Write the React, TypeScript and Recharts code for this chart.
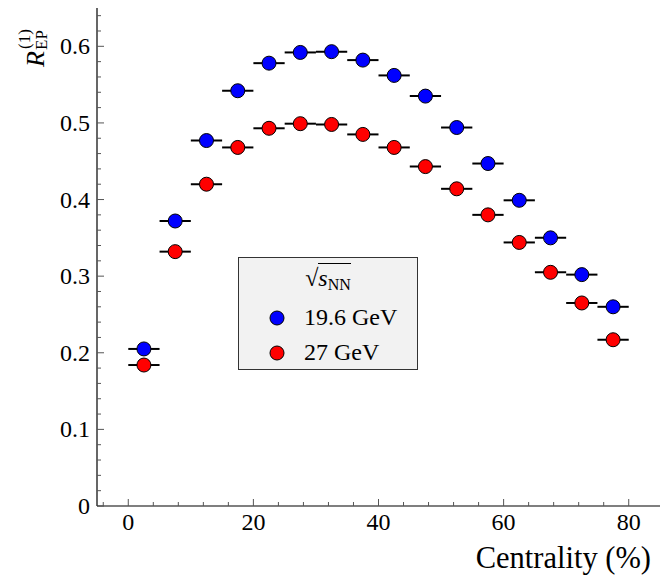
import React from 'react';
import { ScatterChart, Scatter, XAxis, YAxis, ErrorBar } from 'recharts';

const centrality = [2.5, 7.5, 12.5, 17.5, 22.5, 27.5, 32.5, 37.5, 42.5, 47.5, 52.5, 57.5, 62.5, 67.5, 72.5, 77.5];
const binHalfWidth = [2.5, 2.5, 2.5, 2.5, 2.5, 2.5, 2.5, 2.5, 2.5, 2.5, 2.5, 2.5, 2.5, 2.5, 2.5, 2.5];
const rEP_19_6 = [0.205, 0.372, 0.477, 0.542, 0.578, 0.592, 0.593, 0.582, 0.562, 0.535, 0.494, 0.447, 0.399, 0.350, 0.302, 0.260];
const rEP_27 = [0.184, 0.332, 0.420, 0.468, 0.493, 0.499, 0.498, 0.485, 0.468, 0.443, 0.414, 0.380, 0.344, 0.305, 0.265, 0.217];

const xMajorTicks = [0, 20, 40, 60, 80];
const xMinorTicks = [-4, 4, 8, 12, 16, 24, 28, 32, 36, 44, 48, 52, 56, 64, 68, 72, 76];
const yMajorTicks = [0, 0.1, 0.2, 0.3, 0.4, 0.5, 0.6];
const yMinorTicks = [0.02, 0.04, 0.06, 0.08, 0.12, 0.14, 0.16, 0.18, 0.22, 0.24, 0.26, 0.28, 0.32, 0.34, 0.36, 0.38, 0.42, 0.44, 0.46, 0.48, 0.52, 0.54, 0.56, 0.58, 0.62, 0.64];

const seriesNames = ['19.6 GeV', '27 GeV'];
const seriesColors = ['#0000ff', '#ff0000'];

const data196 = centrality.map((c, i) => ({ x: c, y: rEP_19_6[i], xErr: binHalfWidth[i] }));
const data27 = centrality.map((c, i) => ({ x: c, y: rEP_27[i], xErr: binHalfWidth[i] }));

const xTicksAll = [...xMajorTicks, ...xMinorTicks].sort((a, b) => a - b);
const yTicksAll = [...yMajorTicks, ...yMinorTicks].sort((a, b) => a - b);

const FONT = "'Liberation Serif', 'DejaVu Serif', serif";
const TICK_COLOR = '#555';
const MAJOR_LEN = 7;
const MINOR_LEN = 4;

const BottomTick = (props: any) => {
  const { x, y, payload } = props;
  const v = payload.value;
  const major = xMajorTicks.includes(v);
  return (
    <g>
      <line x1={x} y1={y} x2={x} y2={y - (major ? MAJOR_LEN : MINOR_LEN)} stroke={TICK_COLOR} strokeWidth={1} />
      {major && (
        <text x={x} y={y + 24} textAnchor="middle" style={{ fontFamily: FONT, fontSize: 24 }} fill="#000">
          {String(v)}
        </text>
      )}
    </g>
  );
};

const TopTick = (props: any) => {
  const { x, y, payload } = props;
  const major = xMajorTicks.includes(payload.value);
  return <line x1={x} y1={y} x2={x} y2={y + (major ? MAJOR_LEN : MINOR_LEN)} stroke={TICK_COLOR} strokeWidth={1} />;
};

const LeftTick = (props: any) => {
  const { x, y, payload } = props;
  const v = payload.value;
  const major = yMajorTicks.includes(v);
  return (
    <g>
      <line x1={x} y1={y} x2={x + (major ? MAJOR_LEN : MINOR_LEN)} y2={y} stroke={TICK_COLOR} strokeWidth={1} />
      {major && (
        <text x={x - 7} y={y + 8} textAnchor="end" style={{ fontFamily: FONT, fontSize: 24 }} fill="#000">
          {v === 0 ? '0' : String(v)}
        </text>
      )}
    </g>
  );
};

const RightTick = (props: any) => {
  const { x, y, payload } = props;
  const major = yMajorTicks.includes(payload.value);
  return <line x1={x} y1={y} x2={x - (major ? MAJOR_LEN : MINOR_LEN)} y2={y} stroke={TICK_COLOR} strokeWidth={1} />;
};

const YLabel = () => (
  <g transform="translate(44, 67) rotate(-90)" fill="#000">
    <text x={0} y={0} style={{ fontFamily: FONT, fontSize: 26, fontStyle: 'italic' }}>R</text>
    <text x={17} y={3} style={{ fontFamily: FONT, fontSize: 17 }}>EP</text>
    <text x={18} y={-14} style={{ fontFamily: FONT, fontSize: 17 }}>(1)</text>
  </g>
);

const XLabel = (props: any) => {
  const vb = props.viewBox || { x: 97, y: 506, width: 563 };
  return (
    <text x={vb.x + vb.width - 9} y={vb.y + 62} textAnchor="end" style={{ fontFamily: FONT, fontSize: 30.5 }} fill="#000">
      Centrality (%)
    </text>
  );
};

const Dot = (color: string) => (props: any) => (
  <circle cx={props.cx} cy={props.cy} r={7} fill={color} stroke="#000" strokeWidth={1} />
);

const LegendBox = () => (
  <div
    style={{
      position: 'absolute',
      left: 238,
      top: 257,
      width: 178,
      height: 111,
      border: '1px solid #333',
      background: '#f2f2f2',
      fontFamily: FONT,
      fontSize: 24,
      color: '#000',
    }}
  >
    <div style={{ textAlign: 'center', marginTop: 2, height: 36, lineHeight: '36px' }}>
      <span>√</span>
      <span style={{ borderTop: '1px solid #000', paddingTop: 1 }}>
        <i>s</i>
        <span style={{ fontSize: 16, position: 'relative', top: 4 }}>NN</span>
      </span>
    </div>
    {seriesNames.map((name, i) => (
      <div key={i} style={{ display: 'flex', alignItems: 'center', height: 35, marginTop: i === 0 ? 4 : 0 }}>
        <svg width={16} height={16} style={{ marginLeft: 30, marginRight: 19 }}>
          <circle cx={8} cy={8} r={7} fill={seriesColors[i]} stroke="#000" strokeWidth={1} />
        </svg>
        <span>{name}</span>
      </div>
    ))}
  </div>
);

export default function App() {
  return (
    <div style={{ position: 'absolute', left: 0, top: 0, width: 667, height: 576, background: '#fff' }}>
      <ScatterChart width={667} height={576} margin={{ top: 8, right: 7, left: 0, bottom: 0 }}>
        <XAxis
          xAxisId="b"
          dataKey="x"
          type="number"
          domain={[-5, 85]}
          allowDataOverflow
          ticks={xTicksAll}
          interval={0}
          height={70}
          tickSize={0}
          tickMargin={0}
          tick={BottomTick}
          tickLine={false}
          axisLine={{ stroke: '#000', strokeWidth: 1.2 }}
          label={<XLabel />}
        />
        <XAxis
          xAxisId="t"
          orientation="top"
          dataKey="x"
          type="number"
          domain={[-5, 85]}
          allowDataOverflow
          ticks={xTicksAll}
          interval={0}
          height={0}
          tickSize={0}
          tickMargin={0}
          tick={TopTick}
          tickLine={false}
          axisLine={{ stroke: '#000', strokeWidth: 1.2 }}
        />
        <YAxis
          yAxisId="l"
          dataKey="y"
          type="number"
          domain={[0, 0.65]}
          allowDataOverflow
          ticks={yTicksAll}
          interval={0}
          width={97}
          tickSize={0}
          tickMargin={0}
          tick={LeftTick}
          tickLine={false}
          axisLine={{ stroke: '#000', strokeWidth: 1.2 }}
          label={<YLabel />}
        />
        <YAxis
          yAxisId="r"
          orientation="right"
          dataKey="y"
          type="number"
          domain={[0, 0.65]}
          allowDataOverflow
          ticks={yTicksAll}
          interval={0}
          width={0}
          tickSize={0}
          tickMargin={0}
          tick={RightTick}
          tickLine={false}
          axisLine={{ stroke: '#000', strokeWidth: 1.2 }}
        />
        <Scatter
          name={seriesNames[0]}
          data={data196}
          xAxisId="b"
          yAxisId="l"
          fill={seriesColors[0]}
          shape={Dot(seriesColors[0])}
          isAnimationActive={false}
        >
          <ErrorBar dataKey="xErr" direction="x" width={0} stroke="#000" strokeWidth={2} />
        </Scatter>
        <Scatter
          name={seriesNames[1]}
          data={data27}
          xAxisId="b"
          yAxisId="l"
          fill={seriesColors[1]}
          shape={Dot(seriesColors[1])}
          isAnimationActive={false}
        >
          <ErrorBar dataKey="xErr" direction="x" width={0} stroke="#000" strokeWidth={2} />
        </Scatter>
      </ScatterChart>
      <LegendBox />
    </div>
  );
}
